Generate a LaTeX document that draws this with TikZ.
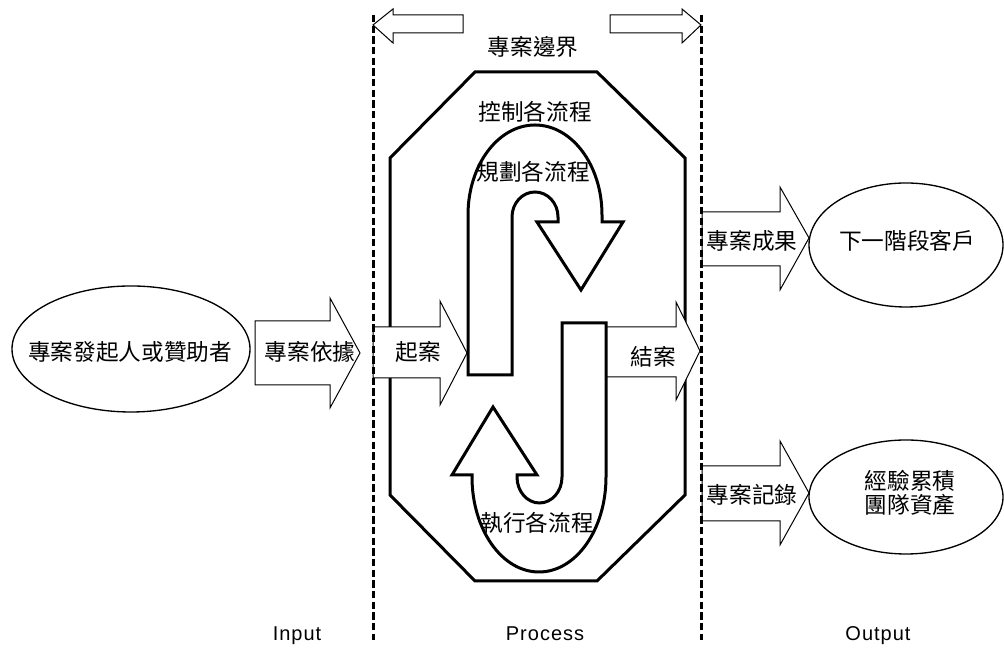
\documentclass[tikz,border=0pt]{standalone}
\usepackage{fontspec}
\newfontfamily\cjk{Noto Sans CJK TC}
\newfontfamily\lat[LetterSpace=5]{Liberation Sans}
\usetikzlibrary{shapes.geometric}
\begin{document}
\begin{tikzpicture}[x=0.75pt,y=0.75pt,
  cjktext/.style={font=\fontsize{17}{17.5}\selectfont\cjk, inner sep=0pt, align=center},
  lattext/.style={font=\fontsize{15}{17}\selectfont\lat, inner sep=0pt, anchor=base},
  blockarrow/.style={draw, line width=0.75pt, fill=white, line join=miter},
  boundary/.style={line width=2.25pt, dash pattern=on 5.5pt off 2.5pt},
  thickshape/.style={draw, line width=2.25pt, fill=white, line join=miter},
  bubble/.style={draw, ellipse, line width=1pt, inner sep=0pt}]
\useasboundingbox (0,0) rectangle (1004,648);

% boundary arrows at top
\draw[blockarrow] (373,623) -- (393,639) -- (393,633) -- (463,633) -- (463,615) -- (393,615) -- (393,605) -- cycle;
\draw[blockarrow] (701,623) -- (682,639) -- (682,633) -- (610,633) -- (610,615) -- (682,615) -- (682,605) -- cycle;
\node[cjktext] (boundlbl) at (533,601) {專案邊界};

% octagon
\draw[thickshape] (475,576) -- (597,576) -- (685,490) -- (685,153) -- (597,67) -- (475,67) -- (390,153) -- (390,490) -- cycle;
\node[cjktext] (control) at (535,536) {控制各流程};

% left ellipse and input arrow
\node[bubble, minimum width=178.5pt, minimum height=94.5pt] (sponsor) at (131,299) {};
\node[cjktext] (sponsorlbl) at (130,296) {專案發起人或贊助者};
\draw[blockarrow] (255,327) -- (330,327) -- (330,350) -- (360,295) -- (330,240) -- (330,263) -- (255,263) -- cycle;
\node[cjktext] (basis) at (310,296) {專案依據};

% initiate / close arrows
\draw[blockarrow] (373,321) -- (440,321) -- (440,347) -- (467,295) -- (440,243) -- (440,270) -- (373,270) -- cycle;
\node[cjktext] (initiate) at (418,296) {起案};
\draw[blockarrow] (606,321) -- (676,321) -- (676,346) -- (700,297) -- (676,248) -- (676,271) -- (606,271) -- cycle;
\node[cjktext] (closing) at (653,291) {結案};

% planning U arrow
\draw[thickshape] (468,273) -- (512,273) -- (512,431)
  arc[start angle=180, end angle=0, x radius=17.25pt, y radius=18.75pt]
  -- (558,426) -- (537,426) -- (581,358) -- (623,426) -- (602,426) -- (602,433)
  arc[start angle=0, end angle=180, x radius=50.25pt, y radius=67.5pt] -- cycle;
\node[cjktext] (planning) at (533,476) {規劃各流程};

% executing J arrow
\draw[thickshape] (562,325) -- (606,325) -- (606,171)
  arc[start angle=0, end angle=-180, x radius=50.25pt, y radius=71.25pt]
  -- (472,173) -- (452,173) -- (493,241) -- (537,173) -- (517,173) -- (517,171)
  arc[start angle=180, end angle=360, x radius=16.875pt, y radius=19.5pt] -- cycle;
\node[cjktext] (executing) at (537,125) {執行各流程};

% output arrows and ellipses
\draw[blockarrow] (702,436) -- (780,436) -- (780,461) -- (809,410) -- (780,358) -- (780,382) -- (702,382) -- cycle;
\node[cjktext] (result) at (752,407) {專案成果};
\node[bubble, minimum width=145.5pt, minimum height=93pt] (client) at (906,403) {};
\node[cjktext] (clientlbl) at (907,407) {下一階段客戶};

\draw[blockarrow] (702,182) -- (780,182) -- (780,207) -- (809,155) -- (780,103) -- (780,127) -- (702,127) -- cycle;
\node[cjktext] (record) at (752,153) {專案記錄};
\node[bubble, minimum width=145.5pt, minimum height=85.5pt] (assets) at (906,151) {};
\node[cjktext] (assetslbl) at (910,155) {經驗累積\\團隊資產};

% boundaries
\draw[boundary] (373,633) -- (373,8);
\draw[boundary] (701,633) -- (701,8);

% bottom labels
\node[lattext] (input) at (297,7) {Input};
\node[lattext] (process) at (545,7) {Process};
\node[lattext] (output) at (878,7) {Output};
\end{tikzpicture}
\end{document}
